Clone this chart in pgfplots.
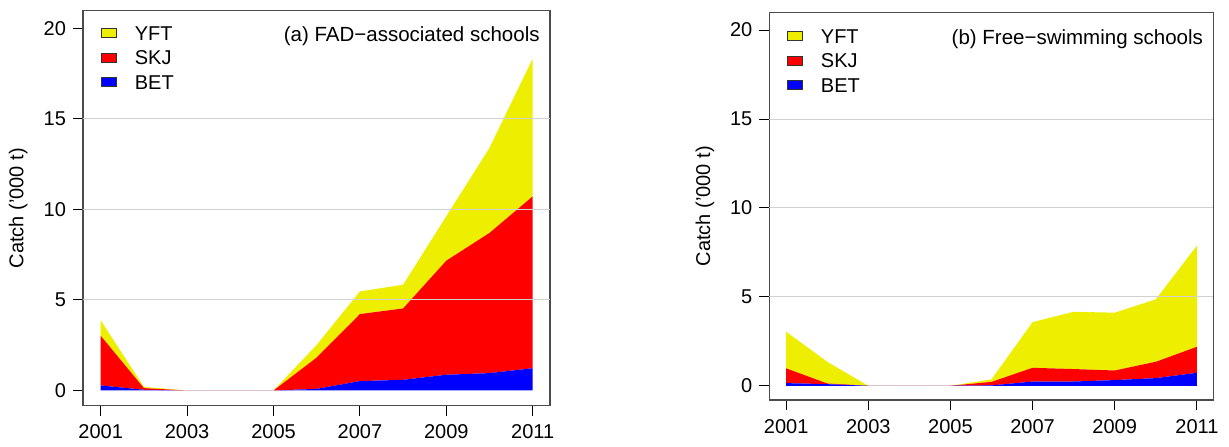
\documentclass[border=0pt]{standalone}
\usepackage{fontspec}
\setmainfont{Liberation Sans}
\usepackage{pgfplots}
\pgfplotsset{compat=1.18}

\definecolor{yft}{HTML}{EEEE00}
\definecolor{skj}{HTML}{FF0000}
\definecolor{bet}{HTML}{0000FF}

\tikzset{paneltitle/.style={anchor=base east, inner sep=0pt, font=\fontsize{10.25}{12}\selectfont}}

\pgfplotsset{
  catchpanel/.style={
    scale only axis,
    axis on top,
    stack plots=y,
    area style,
    xmin=2000.59, xmax=2011.4,
    xtick={2001,2003,2005,2007,2009,2011},
    ytick={0,5,10,15,20},
    tick pos=left,
    tick align=outside,
    major tick length=5pt,
    major tick style={black, line width=0.5pt},
    axis line style={black!70, line width=0.6pt},
    xticklabel style={yshift=-1pt},
    extra y ticks={5,10,15},
    extra y tick labels={},
    extra y tick style={grid=major, major tick length=0pt},
    major grid style={black!18, line width=0.5pt},
    /pgf/number format/assume math mode=true,
    /pgf/number format/1000 sep={},
    ylabel={Catch ('000 t)},
    every axis y label/.style={at={(axis description cs:#1,0.5)}, anchor=center, rotate=90},
    reverse legend,
    legend cell align=left,
    legend image code/.code={\draw[##1, draw=black!80, line width=0.5pt] (0pt,-2.25pt) rectangle (7.35pt,2.25pt);},
    legend style={draw=none, fill=none, inner xsep=0pt, inner ysep=0pt,
      nodes={inner sep=0pt, text height=6.8pt, text depth=0pt},
      row sep=5.4pt, column sep=9pt},
  },
}

\begin{document}
\begin{tikzpicture}
\useasboundingbox (0,0) rectangle (614.5pt,223pt);

% (a) FAD-associated schools
\begin{axis}[catchpanel=-0.139,
  at={(41.5pt,20.15pt)}, anchor=south west,
  width=233.5pt, height=197.5pt,
  ymin=-0.84, ymax=20.97,
  legend style={at={(0,1)}, anchor=north west, xshift=8.9pt, yshift=-7.75pt}]
\addplot[fill=bet, draw=none] coordinates {
  (2001,0.28) (2002,0.04) (2003,0) (2004,0) (2005,0) (2006,0.09)
  (2007,0.52) (2008,0.59) (2009,0.87) (2010,0.96) (2011,1.23)} \closedcycle;
\addplot[fill=skj, draw=none] coordinates {
  (2001,2.74) (2002,0.09) (2003,0) (2004,0) (2005,0) (2006,1.73)
  (2007,3.70) (2008,3.94) (2009,6.30) (2010,7.74) (2011,9.49)} \closedcycle;
\addplot[fill=yft, draw=none] coordinates {
  (2001,0.85) (2002,0.07) (2003,0) (2004,0) (2005,0) (2006,0.70)
  (2007,1.25) (2008,1.31) (2009,2.45) (2010,4.70) (2011,7.61)} \closedcycle;
\legend{BET,SKJ,YFT}
\node[paneltitle, xshift=-5pt, yshift=-15.5pt] at (rel axis cs:1,1) {(a) FAD−associated schools};
\end{axis}

% (b) Free-swimming schools
\begin{axis}[catchpanel=-0.1448,
  at={(384.65pt,23pt)}, anchor=south west,
  width=222pt, height=193.85pt,
  ymin=-0.80, ymax=21.0,
  legend style={at={(0,1)}, anchor=north west, xshift=8.75pt, yshift=-8.45pt}]
\addplot[fill=bet, draw=none] coordinates {
  (2001,0.15) (2002,0.09) (2003,0) (2004,0) (2005,0) (2006,0.02)
  (2007,0.24) (2008,0.24) (2009,0.32) (2010,0.43) (2011,0.73)} \closedcycle;
\addplot[fill=skj, draw=none] coordinates {
  (2001,0.83) (2002,0.04) (2003,0) (2004,0) (2005,0) (2006,0.20)
  (2007,0.77) (2008,0.70) (2009,0.54) (2010,0.92) (2011,1.46)} \closedcycle;
\addplot[fill=yft, draw=none] coordinates {
  (2001,2.06) (2002,1.22) (2003,0) (2004,0) (2005,0) (2006,0.14)
  (2007,2.57) (2008,3.22) (2009,3.25) (2010,3.51) (2011,5.69)} \closedcycle;
\legend{BET,SKJ,YFT}
\node[paneltitle, xshift=-5pt, yshift=-16pt] at (rel axis cs:1,1) {(b) Free−swimming schools};
\end{axis}
\end{tikzpicture}
\end{document}
